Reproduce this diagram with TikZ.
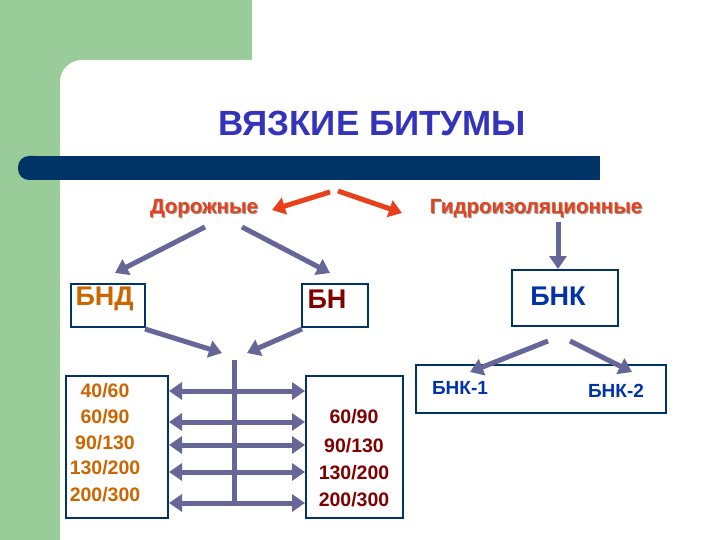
\documentclass[tikz,border=0pt]{standalone}
\usepackage{fontspec}
\setmainfont{Liberation Sans}
\usetikzlibrary{arrows.meta}
\definecolor{grn}{HTML}{99CC99}
\definecolor{navy}{HTML}{003366}
\definecolor{ttl}{HTML}{3333BB}
\definecolor{redt}{HTML}{E8401A}
\definecolor{arr}{HTML}{666699}
\definecolor{orn}{HTML}{CC6600}
\definecolor{mar}{HTML}{800000}
\definecolor{bnk}{HTML}{0033AA}
\begin{document}
\begin{tikzpicture}[x=1pt,y=-1pt,
  barr/.style={draw=arr,line width=5pt,-{Triangle[width=17pt,length=13pt]}},
  darr/.style={draw=arr,line width=5pt,{Triangle[width=17pt,length=13pt]}-{Triangle[width=17pt,length=13pt]}},
  rarr/.style={draw=redt,line width=5pt,-{Triangle[width=17pt,length=13pt]}},
  bx/.style={draw=navy,line width=2pt,fill=white,inner sep=0pt},
  lbl/.style={font=\bfseries\fontsize{27}{30}\selectfont},
  num/.style={font=\bfseries\fontsize{19.5}{22}\selectfont},
  sub/.style={text=bnk,font=\bfseries\fontsize{19}{22}\selectfont},
  cat/.style={font=\bfseries\fontsize{20.5}{24}\selectfont}]
\useasboundingbox (0,0) rectangle (720,540);
\fill[white] (0,0) rectangle (720,540);
\fill[grn] (0,0) rectangle (252,540);
\fill[white,rounded corners=22pt] (60,60) rectangle (760,580);
\fill[navy,rounded corners=11pt] (18,156) rectangle (45,180);
\fill[navy] (30,156) rectangle (600,180);
\node[text=ttl,font=\bfseries\fontsize{35}{38}\selectfont] (t) at (372,123) {ВЯЗКИЕ БИТУМЫ};
\node[cat,text=black!40] at (205,210) {Дорожные};
\node[cat,text=redt] (d) at (204,209) {Дорожные};
\node[cat,text=black!40] at (537,210) {Гидроизоляционные};
\node[cat,text=redt] (g) at (536,209) {Гидроизоляционные};
\coordinate (r0) at (330,192); \coordinate (r1) at (272,210);
\coordinate (r2) at (338,191); \coordinate (r3) at (402,213);
\draw[rarr] (r0) -- (r1);
\draw[rarr] (r2) -- (r3);
\node[bx,minimum width=74pt,minimum height=43pt] (bnd) at (108,305.5) {};
\node[lbl,text=orn,anchor=west] at (72,299) {БНД};
\node[bx,minimum width=66pt,minimum height=43pt] (bn) at (335,305.5) {};
\node[lbl,text=mar,anchor=west] at (304,299) {БН};
\node[bx,minimum width=106pt,minimum height=56pt] (bk) at (565,298) {};
\node[lbl,text=bnk] at (558,296) {БНК};
\coordinate (a0) at (205,227); \coordinate (a1) at (115,273);
\coordinate (a2) at (242,227); \coordinate (a3) at (330,273);
\draw[barr] (a0) -- (a1);
\draw[barr] (a2) -- (a3);
\coordinate (gs) at (558,222);
\draw[barr] (gs) -- (bk.north -| gs);
\coordinate (b0) at (145,329); \coordinate (b1) at (222,353);
\coordinate (b2) at (302,329); \coordinate (b3) at (247,353);
\draw[barr] (b0) -- (b1);
\draw[barr] (b2) -- (b3);
\node[bx,minimum width=102pt,minimum height=142pt] (L) at (117,447) {};
\node[bx,minimum width=97pt,minimum height=142pt] (R) at (354.5,447) {};
\node[bx,minimum width=250pt,minimum height=48pt] (K) at (541,389) {};
\node[sub] at (460,388) {БНК-1};
\node[sub] at (616,391) {БНК-2};
\coordinate (c0) at (548,341); \coordinate (c1) at (470,372);
\coordinate (c2) at (570,341); \coordinate (c3) at (632,372);
\draw[barr] (c0) -- (c1);
\draw[barr] (c2) -- (c3);
\coordinate (v0) at (234,360); \coordinate (v1) at (234,503);
\draw[draw=arr,line width=5pt] (v0) -- (v1);
\foreach \y in {391,422,445,472,503}{
  \draw[darr] (L.east |- 0,\y) -- (R.west |- 0,\y);}
\foreach \t/\y in {{40/60}/391,{60/90}/417,{90/130}/443,{130/200}/468,{200/300}/495}{
  \node[num,text=orn] at (105,\y) {\t};}
\foreach \t/\y in {{60/90}/417,{90/130}/446,{130/200}/473,{200/300}/500}{
  \node[num,text=mar] at (354,\y) {\t};}
\end{tikzpicture}
\end{document}
